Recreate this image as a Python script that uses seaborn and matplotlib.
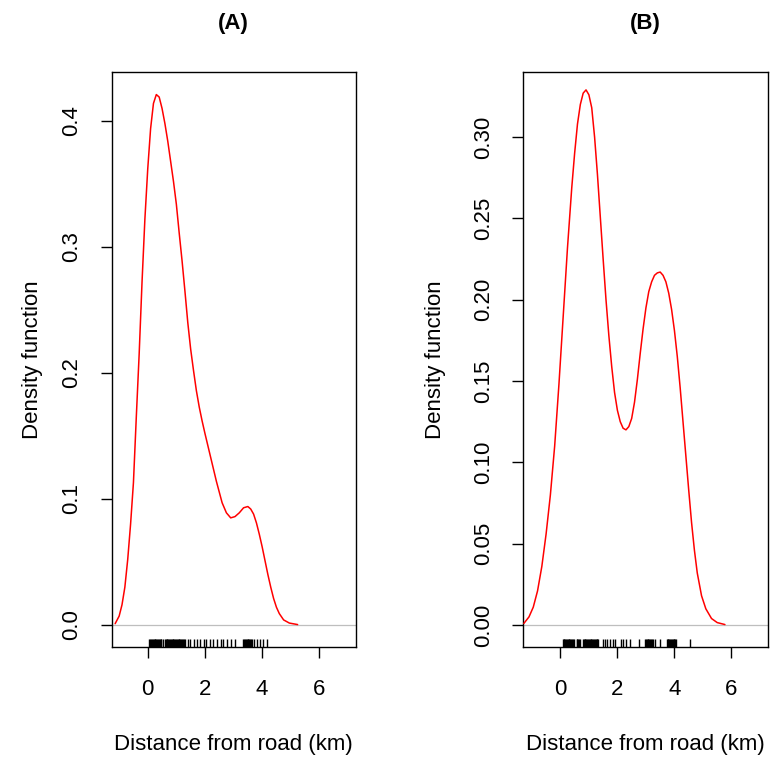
import matplotlib
matplotlib.use("Agg")
import matplotlib.pyplot as plt
import seaborn as sns

# density curves (km, density)
a_x = [-1.14, -1.0, -0.9, -0.8, -0.7, -0.6, -0.5, -0.4, -0.3, -0.2, -0.1, 0.0, 0.1, 0.2,
       0.3, 0.4, 0.5, 0.6, 0.7, 0.8, 0.9, 1.0, 1.1, 1.2, 1.3, 1.4, 1.5, 1.6, 1.7, 1.8,
       1.9, 2.0, 2.2, 2.4, 2.6, 2.75, 2.9, 3.05, 3.2, 3.35, 3.5, 3.6, 3.7, 3.8, 3.9,
       4.0, 4.1, 4.2, 4.3, 4.4, 4.5, 4.6, 4.75, 4.95, 5.24]
a_y = [0.001, 0.007, 0.016, 0.030, 0.052, 0.080, 0.113, 0.165, 0.215, 0.272, 0.322, 0.362,
       0.394, 0.414, 0.421, 0.419, 0.410, 0.398, 0.384, 0.368, 0.352, 0.334, 0.311, 0.289,
       0.265, 0.240, 0.219, 0.202, 0.186, 0.173, 0.162, 0.152, 0.133, 0.114, 0.097, 0.089,
       0.085, 0.086, 0.089, 0.093, 0.094, 0.092, 0.088, 0.081, 0.072, 0.062, 0.051, 0.040,
       0.030, 0.021, 0.014, 0.009, 0.004, 0.0015, 0.0003]

b_x = [-1.28, -1.1, -0.95, -0.8, -0.65, -0.5, -0.35, -0.2, -0.05, 0.1, 0.25, 0.4, 0.5,
       0.6, 0.7, 0.8, 0.9, 1.0, 1.1, 1.2, 1.3, 1.4, 1.5, 1.6, 1.7, 1.8, 1.9, 2.0, 2.1,
       2.2, 2.3, 2.4, 2.5, 2.6, 2.7, 2.8, 2.9, 3.0, 3.1, 3.2, 3.3, 3.4, 3.5, 3.6, 3.7,
       3.8, 3.9, 4.0, 4.1, 4.2, 4.3, 4.4, 4.5, 4.6, 4.7, 4.8, 4.95, 5.1, 5.3, 5.5, 5.77]
b_y = [0.001, 0.005, 0.011, 0.021, 0.036, 0.056, 0.080, 0.110, 0.148, 0.190, 0.232, 0.269,
       0.290, 0.308, 0.320, 0.327, 0.329, 0.326, 0.318, 0.300, 0.277, 0.251, 0.225, 0.200,
       0.178, 0.159, 0.143, 0.132, 0.125, 0.121, 0.120, 0.122, 0.127, 0.137, 0.151, 0.167,
       0.182, 0.195, 0.205, 0.211, 0.215, 0.2165, 0.217, 0.215, 0.211, 0.204, 0.194, 0.181,
       0.165, 0.146, 0.125, 0.104, 0.083, 0.063, 0.046, 0.032, 0.018, 0.010, 0.004, 0.0015,
       0.0003]

a_rug = [0.06, 0.09, 0.12, 0.15, 0.18, 0.21, 0.24, 0.27, 0.30, 0.33, 0.36, 0.39, 0.42, 0.45,
         0.47, 0.52, 0.60, 0.63, 0.66, 0.69, 0.72, 0.75, 0.78, 0.81, 0.84, 0.87, 0.90, 0.93,
         0.96, 0.99, 1.02, 1.05, 1.08, 1.11, 1.14, 1.17, 1.20, 1.23, 1.26, 1.30,
         1.39, 1.48, 1.60, 1.71, 1.83, 1.95, 2.04, 2.18, 2.29, 2.41, 2.55, 2.64, 2.76,
         2.90, 3.05, 3.34, 3.37, 3.40, 3.43, 3.46, 3.49, 3.52, 3.55, 3.58, 3.61, 3.64,
         3.72, 3.81, 3.93, 4.04, 4.16]
b_rug = [0.08, 0.11, 0.14, 0.17, 0.20, 0.23, 0.26, 0.29, 0.32, 0.35, 0.38, 0.41, 0.44, 0.48,
         0.57, 0.60, 0.63, 0.66, 0.69, 0.79, 0.82, 0.85, 0.88, 0.91, 0.94, 0.97, 1.00, 1.03,
         1.06, 1.09, 1.12, 1.15, 1.18, 1.21, 1.24, 1.27, 1.30, 1.33,
         1.49, 1.57, 1.65, 1.74, 1.84, 1.92, 2.12, 2.21, 2.31, 2.45, 2.77,
         2.97, 3.00, 3.03, 3.06, 3.09, 3.12, 3.15, 3.18, 3.21, 3.24, 3.32, 3.50,
         3.73, 3.76, 3.79, 3.82, 3.85, 3.88, 3.91, 3.94, 3.97, 4.00, 4.03, 4.06, 4.53]

x_ticks = [0, 2, 4, 6]
a_yticks = [0.0, 0.1, 0.2, 0.3, 0.4]
a_ylabels = ["0.0", "0.1", "0.2", "0.3", "0.4"]
b_yticks = [0.0, 0.05, 0.10, 0.15, 0.20, 0.25, 0.30]
b_ylabels = ["0.00", "0.05", "0.10", "0.15", "0.20", "0.25", "0.30"]

sns.set_style("white")
plt.rcParams["font.family"] = ["Liberation Sans", "DejaVu Sans"]
for k in ["text.color", "axes.labelcolor", "xtick.color", "ytick.color"]:
    plt.rcParams[k] = "black"

W, H = 777, 764
fig = plt.figure(figsize=(W / 100, H / 100), dpi=100)
axA = fig.add_axes([111.7 / W, (H - 647) / H, 244 / W, 575 / H])
axB = fig.add_axes([523 / W, (H - 647) / H, 245 / W, 575 / H])


def panel(ax, xs, ys, rug, xlim, ylim, yticks, ylabels, title):
    ax.axhline(0, color="#bebebe", lw=0.9, zorder=1)
    sns.lineplot(x=xs, y=ys, ax=ax, color="red", lw=1.1, sort=False, zorder=3)
    sns.rugplot(x=rug, ax=ax, height=0.014, color="black", lw=1.0, expand_margins=False)
    ax.set_xlim(*xlim)
    ax.set_ylim(*ylim)
    ax.set_xticks(x_ticks)
    ax.set_xticklabels([str(t) for t in x_ticks], fontsize=16)
    ax.set_yticks(yticks)
    ax.set_yticklabels(ylabels, fontsize=16, rotation=90, va="center")
    ax.tick_params(direction="out", length=8, width=1, color="black", pad=13, bottom=True, left=True)
    ax.tick_params(axis="x", pad=15)
    for s in ax.spines.values():
        s.set_color("black")
        s.set_linewidth(1.0)
    ax.set_xlabel("Distance from road (km)", fontsize=16)
    ax.set_ylabel("Density function", fontsize=16)
    ax.xaxis.set_label_coords(0.5, -0.152)
    ax.set_title(title, fontsize=16, fontweight="bold", pad=31)


panel(axA, a_x, a_y, a_rug, (-1.26, 7.27), (-0.0175, 0.4389), a_yticks, a_ylabels, "(A)")
panel(axB, b_x, b_y, b_rug, (-1.31, 7.28), (-0.0135, 0.340), b_yticks, b_ylabels, "(B)")
axA.yaxis.set_label_coords(-0.281, 0.5)
axB.yaxis.set_label_coords(-0.313, 0.5)

fig.savefig("out.png", dpi=100)
